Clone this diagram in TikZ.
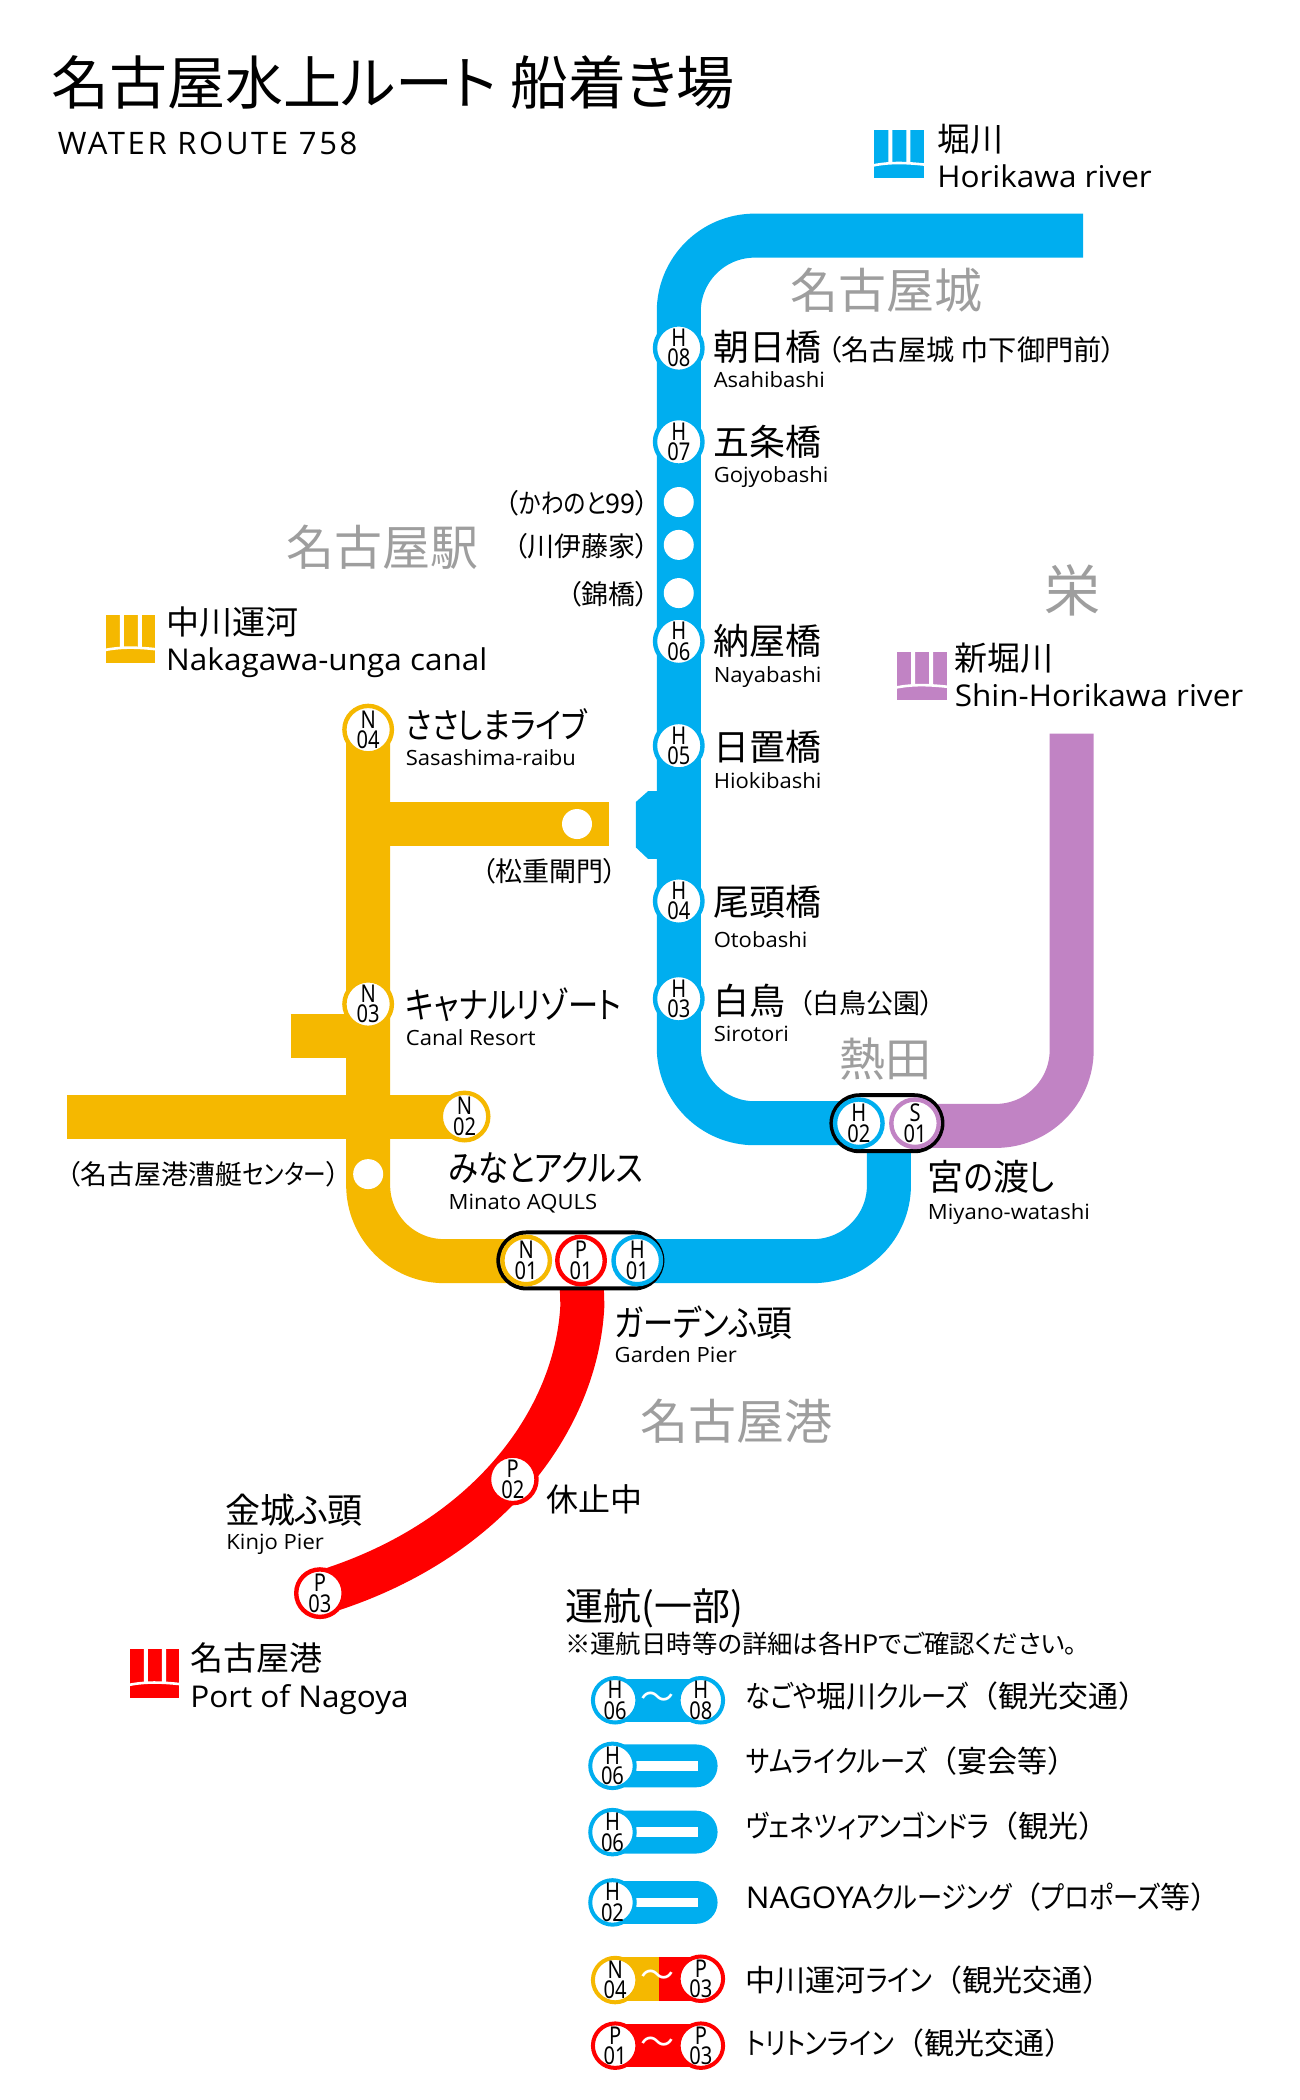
\documentclass[tikz,border=0pt]{standalone}
\usepackage{fontspec}
\usetikzlibrary{shapes.misc}
\setmainfont{Open Sans}
\newfontfamily\jp{Noto Sans CJK JP}
\newfontfamily\jpp[RawFeature=+palt]{Noto Sans CJK JP}
\newfontfamily\knf[RawFeature=+palt,FakeStretch=0.84]{Noto Sans CJK JP}
\newfontfamily\la[FakeStretch=1.05]{Open Sans}
\newfontfamily\las[LetterSpace=8.5]{Open Sans}
\newfontfamily\stn[FakeStretch=0.82]{Noto Sans}
\newcommand\K[1]{{\knf #1}}
\newcommand\Pl[1]{{\jpp #1}}
\definecolor{hblue}{HTML}{00AEEF}
\definecolor{nyel}{HTML}{F5B800}
\definecolor{pred}{HTML}{FF0000}
\definecolor{spur}{HTML}{C183C4}
\definecolor{gr}{HTML}{9E9E9E}
\tikzset{
 rail/.style={line width=44pt,line cap=butt,line join=miter,rounded corners=76pt},
 stbase/.style={circle,fill=white,inner sep=0pt,align=center,text=black,font=\stn\fontsize{24.5}{20.5}\selectfont},
 st/.style={stbase,draw=#1,line width=4.4pt,minimum size=47.5pt},
 lg/.style={stbase,draw=#1,minimum size=44pt,line width=4pt},
 dot/.style={circle,fill=white,minimum size=30pt,inner sep=0pt},
 lab/.style={anchor=west,inner sep=0pt,text=black},
 labr/.style={anchor=east,inner sep=0pt,text=black},
 capsule/.style={rounded rectangle,draw=black,fill=white,line width=4pt,inner sep=0pt,minimum height=56pt},
 tilde/.style={inner sep=0pt,text=white,font=\jp\fontsize{34}{34}\selectfont},
}
\newcommand\ja[5]{\node[lab,yshift=-1pt,font=\jp\fontsize{#4}{#4}\selectfont] (#1) at (#2,#3) {#5};}
\newcommand\jr[5]{\node[labr,yshift=-1pt,font=\jpp\fontsize{#4}{#4}\selectfont] (#1) at (#2,#3) {#5};}
\newcommand\en[5]{\node[lab,anchor=base west,yshift={-#4*0.36pt},font=\la\fontsize{#4}{#4}\selectfont] (#1) at (#2,#3) {#5};}
\newcommand\gy[4]{\node[lab,yshift=-1pt,text=gr,font=\jp\fontsize{#4}{#4}\selectfont] (g#1) at (#2,#3) {#1};}
\newcommand\rivericon[3]{\begin{scope}[shift={(#1,#2)}]
 \fill[#3] (0,0) rectangle (37,36);
 \fill[white] (10.5,-.5) rectangle (13.5,25) (24,-.5) rectangle (27,25);
 \draw[white,line width=2.6pt] (-1,26.6) .. controls (12,24) and (24,24.5) .. (38,26);
\end{scope}}
\begin{document}
\begin{tikzpicture}[x=1.3388pt,y=-1.3388pt]
\path[use as bounding box] (0,0) rectangle (971,1568.6);
\coordinate (hEnd) at (809,176);
\coordinate (hTL) at (507,176);
\coordinate (hBL) at (507,839);
\coordinate (hTurn) at (664,839);
\coordinate (hBR) at (664,942);
\coordinate (nTop) at (275,545);
\coordinate (nBL) at (275,942);
\coordinate (sTop) at (800.5,548);
\coordinate (sBR) at (800.5,841);
\coordinate (nFarL) at (50,834);
\coordinate (nFarR) at (347,834);
\coordinate (sluiceL) at (258.5,615.5);
\coordinate (sluiceR) at (455,615.5);
\coordinate (stubL) at (217,774);
\coordinate (stubR) at (275,774);
\coordinate (pTop) at (434,942);
\coordinate (pBend) at (435,975);
\coordinate (pEnd) at (239,1190);
\coordinate (hH01) at (476,942);
\coordinate (nN01) at (393,942);
\coordinate (sS01) at (683,841);
\coordinate (hH02) at (641,839);
% rails
\draw[rail,hblue] (hEnd) -- (hTL) -- (hBL) -- (hH02);
\draw[rail,hblue] (hTurn) -- (hBR) -- (hH01);
\draw[rail,spur] (sTop) -- (sBR) -- (sS01);
\draw[rail,nyel] (nTop) -- (nBL) -- (nN01);
\draw[rail,nyel,rounded corners=0pt] (nFarL) -- (nFarR);
\draw[rail,nyel,rounded corners=0pt] (sluiceL) -- (sluiceR);
\draw[rail,nyel,rounded corners=0pt] (stubL) -- (stubR);
\draw[rail,pred,rounded corners=0pt] (pTop) -- (pBend) .. controls (431,1060) and (365,1152) .. (pEnd);
\fill[hblue] (491,591) -- (484,591) -- (475,599) -- (475,633) -- (484,641.5) -- (491,641.5) -- cycle;
% capsules
\node[capsule,minimum width=111pt] (capB) at (662.5,839) {};
\node[capsule,minimum width=164pt] (capA) at (433.5,941.5) {};
% stations
\node[st=hblue] (H08) at (507,260) {H\\08};
\node[st=hblue] (H07) at (507,330) {H\\07};
\node[dot] (w1) at (507,375) {};
\node[dot] (w2) at (507,407) {};
\node[dot] (w3) at (507,443) {};
\node[st=hblue] (H06) at (507,479) {H\\06};
\node[st=hblue] (H05) at (507,557) {H\\05};
\node[st=hblue] (H04) at (507,673) {H\\04};
\node[st=hblue] (H03) at (507,746) {H\\03};
\node[st=hblue] (H02) at (641.5,839) {H\\02};
\node[st=spur] (S01) at (683.5,839) {S\\01};
\node[st=nyel] (N04) at (275,545) {N\\04};
\node[st=nyel] (N03) at (275,750) {N\\03};
\node[st=nyel] (N02) at (347,834) {N\\02};
\node[dot] (w4) at (431,615.5) {};
\node[dot] (w5) at (275,877) {};
\node[st=nyel] (N01) at (393,941.5) {N\\01};
\node[st=pred] (P01) at (434,941.5) {P\\01};
\node[st=hblue] (H01) at (476,941.5) {H\\01};
\node[st=pred] (P02) at (383,1105) {P\\02};
\node[st=pred] (P03) at (239,1190) {P\\03};
% title
\ja{title}{38}{61}{58}{名古屋水上\Pl{ルート} 船着\Pl{き}場}
\node[lab,font=\las\fontsize{31}{31}\selectfont] (sub) at (43,107) {WATER ROUTE 758};
% river icons
\rivericon{653}{97}{hblue}
\rivericon{79}{459}{nyel}
\rivericon{670}{487}{spur}
\rivericon{97}{1232}{pred}
\ja{rH}{700}{103}{33}{堀川}
\en{rHe}{700}{132}{30}{Horikawa river}
\ja{rN}{124}{464}{33}{中川運河}
\en{rNe}{124}{493}{30}{Nakagawa-unga canal}
\ja{rS}{713}{491}{33}{新堀川}
\en{rSe}{713}{520}{30}{Shin-Horikawa river}
\ja{rP}{142}{1238}{33}{名古屋港}
\en{rPe}{142}{1267}{30}{Port of Nagoya}
% grey districts
\gy{名古屋城}{590}{216}{48}
\gy{名古屋駅}{214}{408}{48}
\gy{栄}{780}{440}{56}
\gy{熱田}{627}{790}{46}
\gy{名古屋港}{478}{1061}{48}
% station names
\ja{a1}{533}{258}{36}{朝日橋}
\node[lab,font=\jpp\fontsize{28.2}{28.2}\selectfont] (a1b) at (618,261) {（名古屋城 巾下御門前）};
\en{a1e}{533}{284}{21}{Asahibashi}
\ja{a2}{533}{329}{36}{五条橋}
\en{a2e}{533}{355}{21}{Gojyobashi}
\jr{c1}{485}{375}{27}{（\K{かわのと}99）}
\jr{c2}{485}{407}{27}{（川伊藤家）}
\jr{c3}{485}{443}{27}{（錦橋）}
\ja{a3}{533}{478}{36}{納屋橋}
\en{a3e}{533}{504}{21}{Nayabashi}
\ja{a4}{533}{557}{36}{日置橋}
\en{a4e}{533}{583}{21}{Hiokibashi}
\ja{a5}{533}{673}{36}{尾頭橋}
\en{a5e}{533}{702}{21}{Otobashi}
\ja{a6}{533}{747}{36}{白鳥}
\node[lab,font=\jpp\fontsize{27}{27}\selectfont] (a6b) at (597,749) {（白鳥公園）};
\en{a6e}{533}{772}{21}{Sirotori}
\ja{n4}{303}{540}{35}{\K{ささしまライブ}}
\en{n4e}{303}{566}{21}{Sasashima-raibu}
\jr{c4}{461}{650}{27}{（松重閘門）}
\ja{n3}{303}{750}{36}{\K{キャナルリゾート}}
\en{n3e}{303}{775}{21}{Canal Resort}
\jr{c5}{254}{876}{27}{（名古屋港漕艇\K{センター}）}
\ja{n2}{335}{872}{36}{\K{みなとアクルス}}
\en{n2e}{335}{898}{21}{Minato AQULS}
\ja{s1}{693}{878}{36}{宮\K{の}渡\K{し}}
\en{s1e}{693}{905}{21}{Miyano-watashi}
\ja{g1}{459}{987}{36}{\K{ガーデンふ}頭}
\en{g1e}{459}{1012}{21}{Garden Pier}
\ja{p2}{408}{1119}{32}{休止中}
\ja{p3}{168}{1127}{35}{金城\Pl{ふ}頭}
\en{p3e}{169}{1152}{21}{Kinjo Pier}
% legend
\node[lab,yshift=-2pt,font=\jpp\fontsize{38}{38}\selectfont] (lt) at (422,1200) {運航(一部)};
\node[lab,yshift=-1pt,font=\jpp\fontsize{25.4}{25.4}\selectfont] (ln) at (422,1227) {※運航日時等の詳細は各HPでご確認ください。};
\fill[hblue] (459,1254) rectangle (523,1286);
\node[lg=hblue] (l1a) at (459.5,1270) {H\\06};
\node[lg=hblue] (l1b) at (523.5,1270) {H\\08};
\node[tilde] (l1t) at (491,1270) {～};
\fill[hblue] (457,1303) -- (520,1303) arc[start angle=-90,end angle=90,radius=16] -- (457,1335) -- cycle;
\fill[white] (457,1315.5) rectangle (521.5,1322.5);
\node[lg=hblue] (l2) at (457.5,1319) {H\\06};
\fill[hblue] (457,1352.5) -- (520,1352.5) arc[start angle=-90,end angle=90,radius=16] -- (457,1384.5) -- cycle;
\fill[white] (457,1365) rectangle (521.5,1372);
\node[lg=hblue] (l3) at (457.5,1368.5) {H\\06};
\fill[hblue] (457,1405) -- (520,1405) arc[start angle=-90,end angle=90,radius=16] -- (457,1437) -- cycle;
\fill[white] (457,1417.5) rectangle (521.5,1424.5);
\node[lg=hblue] (l4) at (457.5,1421) {H\\02};
\fill[nyel] (459,1462) rectangle (492.5,1495);
\fill[pred] (492.5,1462) rectangle (523,1495);
\node[lg=nyel] (l5a) at (459.5,1479) {N\\04};
\node[lg=pred] (l5b) at (523.5,1478) {P\\03};
\node[tilde] (l5t) at (491,1478) {～};
\fill[pred] (459,1512) rectangle (523,1544);
\node[lg=pred] (l6a) at (459.5,1528) {P\\01};
\node[lg=pred] (l6b) at (523.5,1528) {P\\03};
\node[tilde] (l6t) at (491,1528) {～};
\ja{t1}{557}{1266}{30}{\K{なごや}堀川\K{クルーズ}（観光交通）}
\ja{t2}{557}{1315}{30}{\K{サムライクルーズ}（宴会等）}
\ja{t3}{557}{1363}{30}{\K{ヴェネツィアンゴンドラ}（観光）}
\ja{t4}{557}{1416}{30}{{\la NAGOYA}\K{クルージング}（\K{プロポーズ}等）}
\ja{t5}{557}{1478}{30}{中川運河\K{ライン}（観光交通）}
\ja{t6}{557}{1525}{30}{\K{トリトンライン}（観光交通）}
\end{tikzpicture}
\end{document}
